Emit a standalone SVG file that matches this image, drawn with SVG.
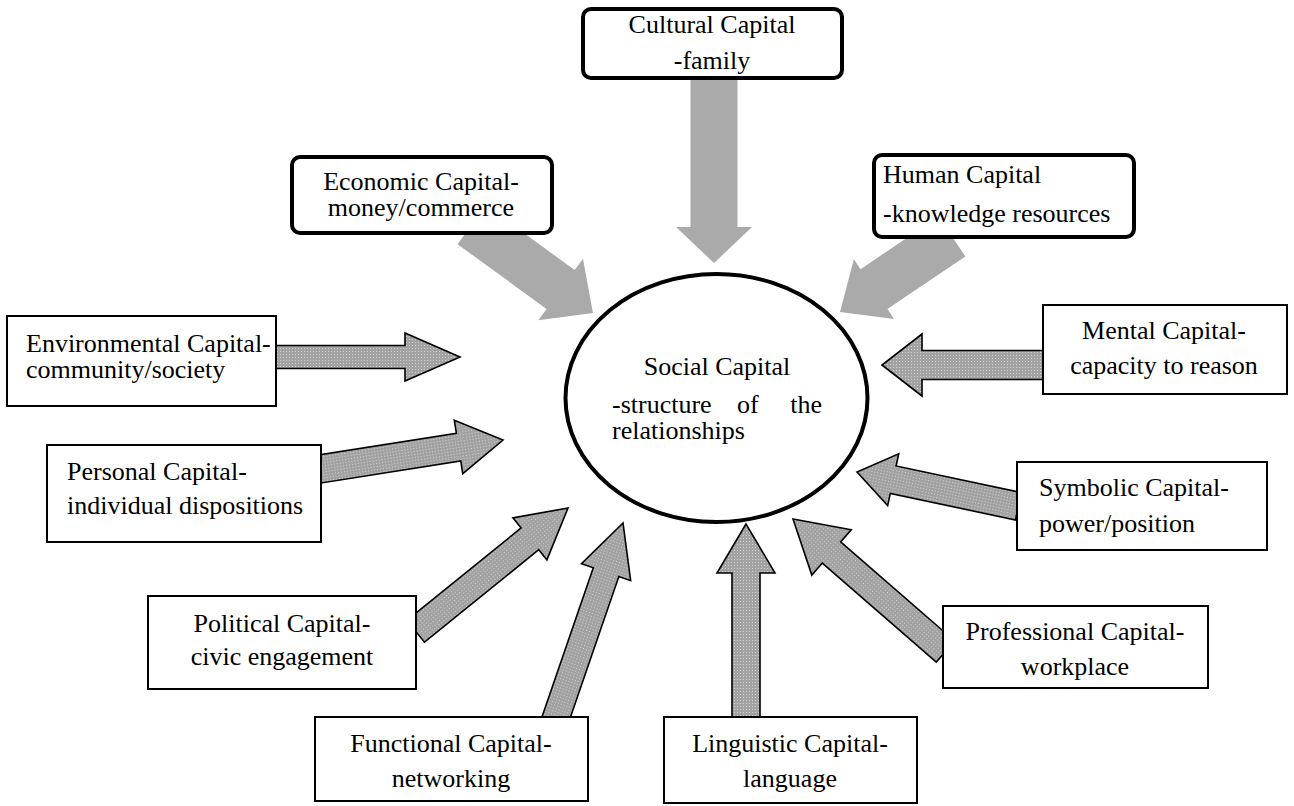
<svg xmlns="http://www.w3.org/2000/svg" width="1294" height="806" viewBox="0 0 1294 806">
<defs>
<pattern id="dots" width="3" height="3" patternUnits="userSpaceOnUse">
<rect width="3" height="3" fill="#a2a2a2"/>
<rect width="1" height="1" fill="#d2d2d2"/>
</pattern>
<style>
.big{fill:#aaaaaa;stroke:none}
.sm{fill:url(#dots);stroke:#000;stroke-width:1.6;stroke-linejoin:miter}
.box{fill:#fff;stroke:#000;stroke-width:2}
.rbox{fill:#fff;stroke:#000;stroke-width:4}
.t{font-family:"Liberation Serif","Times New Roman",serif;font-size:26px;fill:#000}
.c{text-anchor:middle}
</style>
</defs>
<rect width="1294" height="806" fill="#fff"/>
<g id="connectors">
<polygon class="big" transform="translate(714,263) rotate(90)" points="0,0 -36,-38 -36,-23.5 -190,-23.5 -190,23.5 -36,23.5 -36,38"/>
<polygon class="big" transform="translate(593,313) rotate(36)" points="0,0 -40,-38 -40,-24 -150,-24 -150,24 -40,24 -40,38"/>
<polygon class="big" transform="translate(840,312) rotate(146)" points="0,0 -41,-36 -41,-24 -135,-24 -135,24 -41,24 -41,36"/>
<polygon class="sm" transform="translate(460,357) rotate(0)" points="0,0 -55,-24 -55,-11.5 -186,-11.5 -186,11.5 -55,11.5 -55,24"/>
<polygon class="sm" transform="translate(882,365) rotate(180)" points="0,0 -40,-31 -40,-14.5 -163,-14.5 -163,14.5 -40,14.5 -40,31"/>
<polygon class="sm" transform="translate(503,440) rotate(-9)" points="0,0 -45,-27 -45,-14 -186,-14 -186,14 -45,14 -45,27"/>
<polygon class="sm" transform="translate(857,472) rotate(192)" points="0,0 -37,-26.5 -37,-14 -165,-14 -165,14 -37,14 -37,26.5"/>
<polygon class="sm" transform="translate(568,508) rotate(-39)" points="0,0 -49,-27 -49,-14 -196,-14 -196,14 -49,14 -49,27"/>
<polygon class="sm" transform="translate(623,523) rotate(-71)" points="0,0 -52,-26 -52,-13.5 -210,-13.5 -210,13.5 -52,13.5 -52,26"/>
<polygon class="sm" transform="translate(746,524) rotate(-90)" points="0,0 -49,-29 -49,-14 -196,-14 -196,14 -49,14 -49,29"/>
<polygon class="sm" transform="translate(793,519) rotate(-139)" points="0,0 -51,-30 -51,-14 -202,-14 -202,14 -51,14 -51,30"/>
</g>
<g id="social">
<ellipse cx="716.5" cy="398" rx="151" ry="124" fill="#fff" stroke="#000" stroke-width="4"/>
<text class="t c" x="717" y="375">Social Capital</text>
<text class="t" y="413"><tspan x="612">-structure</tspan><tspan x="737">of</tspan><tspan x="822" text-anchor="end">the</tspan></text>
<text class="t" x="612" y="439">relationships</text>
</g>
<g id="cultural">
<rect class="rbox" x="583" y="9" width="259" height="69" rx="8"/>
<text class="t c" x="712" y="33">Cultural Capital</text>
<text class="t c" x="712" y="69">-family</text>
</g>
<g id="economic">
<rect class="rbox" x="292" y="157" width="260" height="76" rx="8"/>
<text class="t c" x="421" y="190">Economic Capital-</text>
<text class="t c" x="421" y="216">money/commerce</text>
</g>
<g id="human">
<rect class="rbox" x="874" y="155" width="260" height="82" rx="8"/>
<text class="t" x="883" y="183">Human Capital</text>
<text class="t" x="883" y="222">-knowledge resources</text>
</g>
<g id="environmental">
<rect class="box" x="7" y="316" width="269" height="90"/>
<text class="t" x="26" y="352">Environmental Capital-</text>
<text class="t" x="26" y="378">community/society</text>
</g>
<g id="mental">
<rect class="box" x="1043" y="305" width="244" height="89"/>
<text class="t c" x="1164" y="339">Mental Capital-</text>
<text class="t c" x="1164" y="374">capacity to reason</text>
</g>
<g id="personal">
<rect class="box" x="47" y="445" width="274" height="97"/>
<text class="t" x="67" y="480">Personal Capital-</text>
<text class="t" x="67" y="514">individual dispositions</text>
</g>
<g id="symbolic">
<rect class="box" x="1017" y="462" width="250" height="88"/>
<text class="t" x="1039" y="496">Symbolic Capital-</text>
<text class="t" x="1039" y="532">power/position</text>
</g>
<g id="political">
<rect class="box" x="148" y="596" width="268" height="93"/>
<text class="t c" x="282" y="632">Political Capital-</text>
<text class="t c" x="282" y="665">civic engagement</text>
</g>
<g id="professional">
<rect class="box" x="943" y="606" width="265" height="82"/>
<text class="t c" x="1075" y="640">Professional Capital-</text>
<text class="t c" x="1075" y="675">workplace</text>
</g>
<g id="functional">
<rect class="box" x="315" y="717" width="273" height="84"/>
<text class="t c" x="451" y="752">Functional Capital-</text>
<text class="t c" x="451" y="787">networking</text>
</g>
<g id="linguistic">
<rect class="box" x="664" y="717" width="253" height="86"/>
<text class="t c" x="790" y="752">Linguistic Capital-</text>
<text class="t c" x="790" y="787">language</text>
</g>
</svg>
